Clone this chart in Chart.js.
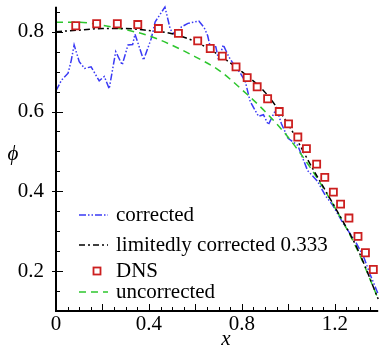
<!DOCTYPE html>
<html>
<head>
<meta charset="utf-8">
<script src="https://cdn.jsdelivr.net/npm/chart.js@4"></script>
<style>
  html, body { margin: 0; padding: 0; background: #fff; }
  #wrap { width: 385px; height: 346px; }
</style>
</head>
<body>
<div id="wrap"><canvas id="phiChart" width="385" height="346"></canvas></div>
<script>
// data
const dnsX = [0.085, 0.175, 0.264, 0.352, 0.441, 0.527, 0.610, 0.664, 0.716, 0.775, 0.823, 0.866, 0.911, 0.961, 1.001, 1.041, 1.078, 1.122, 1.157, 1.194, 1.225, 1.261, 1.300, 1.332, 1.366];
const dnsY = [0.815, 0.820, 0.820, 0.818, 0.808, 0.796, 0.777, 0.758, 0.739, 0.712, 0.685, 0.662, 0.632, 0.600, 0.569, 0.536, 0.507, 0.468, 0.435, 0.398, 0.368, 0.333, 0.287, 0.246, 0.204];

const correctedX = [0.000, 0.024, 0.052, 0.066, 0.078, 0.100, 0.123, 0.151, 0.186, 0.208, 0.229, 0.257, 0.285, 0.310, 0.330, 0.340, 0.377, 0.410, 0.427, 0.469, 0.492, 0.512, 0.540, 0.568, 0.615, 0.638, 0.653, 0.662, 0.688, 0.700, 0.720, 0.744, 0.766, 0.794, 0.815, 0.836, 0.872, 0.893, 0.914, 0.949, 0.970, 0.999, 1.041, 1.083, 1.126, 1.161, 1.189, 1.239, 1.288, 1.323, 1.352, 1.387];
const correctedY = [0.652, 0.679, 0.696, 0.729, 0.767, 0.725, 0.708, 0.712, 0.677, 0.688, 0.657, 0.750, 0.717, 0.767, 0.768, 0.794, 0.729, 0.783, 0.825, 0.862, 0.806, 0.792, 0.812, 0.821, 0.827, 0.810, 0.790, 0.767, 0.762, 0.729, 0.767, 0.737, 0.717, 0.696, 0.675, 0.625, 0.588, 0.592, 0.567, 0.608, 0.570, 0.533, 0.515, 0.452, 0.425, 0.388, 0.367, 0.317, 0.275, 0.238, 0.192, 0.142];

const limitedX = [0, 0.1, 0.2, 0.3, 0.4, 0.5, 0.6, 0.7, 0.8, 0.9, 1.0, 1.1, 1.2, 1.3, 1.387];
const limitedY = [0.800, 0.804, 0.808, 0.808, 0.803, 0.795, 0.775, 0.742, 0.700, 0.648, 0.567, 0.462, 0.361, 0.253, 0.130];

const uncorrectedX = [0, 0.1, 0.2, 0.3, 0.4, 0.5, 0.6, 0.7, 0.8, 0.9, 1.0, 1.1, 1.2, 1.3, 1.387];
const uncorrectedY = [0.824, 0.824, 0.816, 0.805, 0.790, 0.766, 0.737, 0.704, 0.655, 0.600, 0.535, 0.455, 0.360, 0.250, 0.130];

const xTickLabels = [0, 0.4, 0.8, 1.2];
const xMajorTicks = [0, 0.2, 0.4, 0.6, 0.8, 1.0, 1.2];
const yTickLabels = [0.2, 0.4, 0.6, 0.8];

const seriesNames = ["corrected", "limitedly corrected 0.333", "DNS", "uncorrected"];

const SERIF = "'Liberation Serif', 'Times New Roman', serif";
const BLUE = "#3a3af5";
const RED = "#cc1f1f";
const GREEN = "#2ec62e";

function pts(xs, ys) {
    return xs.map((x, i) => ({ x: x, y: ys[i] }));
}

// 🔹 inward ticks, minor ticks and axis lines
const axisPlugin = {
    id: "axisTicks",
    afterDraw(chart) {
        const ctx = chart.ctx;
        const xs = chart.scales.x;
        const ys = chart.scales.y;
        const a = chart.chartArea;
        ctx.save();
        ctx.strokeStyle = "#000";
        ctx.lineWidth = 1;
        // minor x
        for (let v = 0; v <= xs.max + 1e-9; v += 0.05) {
            const px = Math.round(xs.getPixelForValue(v)) + 0.5;
            const major = xMajorTicks.some(m => Math.abs(m - v) < 1e-6);
            ctx.beginPath();
            ctx.moveTo(px, a.bottom);
            ctx.lineTo(px, a.bottom - (major ? 7 : 4));
            ctx.stroke();
        }
        // minor y
        for (let v = 0.1; v <= ys.max + 1e-9; v += 0.05) {
            const py = Math.round(ys.getPixelForValue(v)) + 0.5;
            const major = yTickLabels.some(m => Math.abs(m - v) < 1e-6);
            ctx.beginPath();
            ctx.moveTo(a.left - (major ? 4 : 0), py);
            ctx.lineTo(a.left + (major ? 7 : 4), py);
            ctx.stroke();
        }
        // axis lines
        ctx.lineWidth = 2;
        ctx.beginPath();
        ctx.moveTo(a.left, a.top);
        ctx.lineTo(a.left, a.bottom);
        ctx.lineTo(a.right, a.bottom);
        ctx.stroke();

        // axis titles
        ctx.fillStyle = "#000";
        ctx.font = "italic 21px " + SERIF;
        ctx.textAlign = "center";
        ctx.textBaseline = "middle";
        ctx.fillText("ϕ", 13, 154);
        ctx.fillText("x", 226, 339);

        // 🔹 legend inside the plot
        const rows = [
            { y: 215, color: BLUE, dash: [7, 2, 1.5, 2, 1.5, 2] },
            { y: 245, color: "#000", dash: [6, 3, 2, 3] },
            { y: 271, color: RED, dash: null },
            { y: 292, color: GREEN, dash: [7, 5] }
        ];
        rows.forEach((r, i) => {
            if (r.dash) {
                ctx.strokeStyle = r.color;
                ctx.lineWidth = 1.5;
                ctx.setLineDash(r.dash);
                ctx.beginPath();
                ctx.moveTo(79, r.y);
                ctx.lineTo(108, r.y);
                ctx.stroke();
                ctx.setLineDash([]);
            } else {
                ctx.strokeStyle = r.color;
                ctx.lineWidth = 1.8;
                ctx.fillStyle = "#fff";
                ctx.fillRect(93.5, r.y - 3.5, 7, 7);
                ctx.strokeRect(93.5, r.y - 3.5, 7, 7);
            }
            ctx.fillStyle = "#000";
            ctx.font = "21px " + SERIF;
            ctx.textAlign = "left";
            ctx.textBaseline = "middle";
            ctx.fillText(seriesNames[i], 116, r.y);
        });
        ctx.restore();
    }
};

new Chart(document.getElementById("phiChart"), {
    type: "line",
    data: {
        datasets: [
            {
                label: seriesNames[2],
                data: pts(dnsX, dnsY),
                showLine: false,
                pointStyle: "rect",
                pointRadius: 5,
                pointBorderWidth: 1.8,
                pointBorderColor: RED,
                pointBackgroundColor: "#fff"
            },
            {
                label: seriesNames[1],
                data: pts(limitedX, limitedY),
                borderColor: "#000",
                borderWidth: 1.5,
                borderDash: [6, 3, 2, 3],
                pointRadius: 0,
                cubicInterpolationMode: "monotone"
            },
            {
                label: seriesNames[3],
                data: pts(uncorrectedX, uncorrectedY),
                borderColor: GREEN,
                borderWidth: 1.5,
                borderDash: [7, 5],
                pointRadius: 0,
                cubicInterpolationMode: "monotone"
            },
            {
                label: seriesNames[0],
                data: pts(correctedX, correctedY),
                borderColor: BLUE,
                borderWidth: 1.5,
                borderDash: [7, 2, 1.5, 2, 1.5, 2],
                pointRadius: 0,
                tension: 0
            }
        ]
    },
    options: {
        responsive: false,
        animation: false,
        clip: false,
        layout: { padding: { top: 5, right: 2, left: 0, bottom: 0 } },
        plugins: { legend: { display: false }, tooltip: { enabled: false } },
        scales: {
            x: {
                type: "linear",
                min: 0,
                max: 1.387,
                afterFit: s => { s.height = 35; s.paddingLeft = 0; s.paddingRight = 0; },
                afterBuildTicks: s => { s.ticks = xTickLabels.map(v => ({ value: v })); },
                grid: { display: false, drawTicks: false },
                border: { display: false },
                ticks: {
                    color: "#000",
                    padding: 1,
                    maxRotation: 0,
                    font: { family: SERIF, size: 21 },
                    callback: v => (v === 0 ? "0" : v.toFixed(1))
                }
            },
            y: {
                type: "linear",
                min: 0.1,
                max: 0.8625,
                afterFit: s => { s.width = 56; s.paddingTop = 0; s.paddingBottom = 0; },
                afterBuildTicks: s => { s.ticks = yTickLabels.map(v => ({ value: v })); },
                grid: { display: false },
                border: { display: false },
                ticks: {
                    color: "#000",
                    padding: 4,
                    font: { family: SERIF, size: 21 },
                    callback: v => v.toFixed(1)
                }
            }
        }
    },
    plugins: [axisPlugin]
});
</script>
</body>
</html>
